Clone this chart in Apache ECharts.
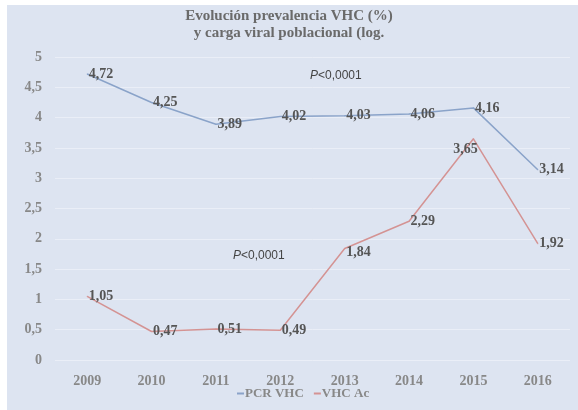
<!DOCTYPE html>
<html>
<head>
<meta charset="utf-8">
<script src="https://cdn.jsdelivr.net/npm/echarts@6/dist/echarts.min.js"></script>
<style>
  html, body { margin: 0; padding: 0; background: #ffffff; }
  #main { width: 578px; height: 410px; }
</style>
</head>
<body>
<div id="main"></div>
<script>
var years = ['2009', '2010', '2011', '2012', '2013', '2014', '2015', '2016'];
var pcrVhc = [4.72, 4.25, 3.89, 4.02, 4.03, 4.06, 4.16, 3.14];
var vhcAc = [1.05, 0.47, 0.51, 0.49, 1.84, 2.29, 3.65, 1.92];
var seriesNames = ['PCR VHC', 'VHC Ac'];
var pText = '{i|P}<0,0001';

var chart = echarts.init(document.getElementById('main'), null, { renderer: 'canvas' });

function comma(v) {
  return v.toFixed(2).replace('.', ',');
}

// label tweaks per point (index -> label option)
function buildData(values, tweaks) {
  return values.map(function (v, i) {
    var d = { value: v };
    if (tweaks[i]) d.label = tweaks[i];
    return d;
  });
}

var labelStyle = {
  show: true,
  position: 'right',
  distance: 1,
  color: '#555555',
  fontFamily: 'Liberation Serif',
  fontWeight: 'bold',
  fontSize: 14,
  formatter: function (p) { return comma(p.value); }
};

function pLabel(x, y) {
  return {
    type: 'text', left: x, top: y, z: 10,
    style: {
      text: pText,
      fill: '#444444',
      font: '12px "Liberation Sans"',
      rich: { i: { fontStyle: 'italic', fontFamily: 'Liberation Sans', fontSize: 12, fill: '#444444' } }
    }
  };
}

var option = {
  backgroundColor: '#ffffff',
  animation: false,
  graphic: [
    {
      type: 'rect', z: -10, silent: true,
      shape: { x: 7, y: 5, width: 571, height: 405 },
      style: { fill: '#dde4f1' }
    },
    pLabel(310, 70),
    pLabel(233, 250)
  ],
  title: {
    text: 'Evolución prevalencia VHC (%)\ny carga viral poblacional (log.',
    left: 'center',
    top: 3,
    textStyle: {
      color: '#6a6a6a',
      fontFamily: 'Liberation Serif',
      fontWeight: 'bold',
      fontSize: 15,
      lineHeight: 17
    }
  },
  legend: {
    bottom: 5,
    left: 232,
    itemWidth: 7,
    itemHeight: 2,
    itemGap: 10,
    icon: 'rect',
    textStyle: {
      color: '#888888',
      fontFamily: 'Liberation Serif',
      fontWeight: 'bold',
      fontSize: 13,
      padding: [0, 0, 0, -4]
    },
    data: seriesNames
  },
  grid: {
    left: 55,
    right: 8,
    top: 57,
    bottom: 50
  },
  xAxis: {
    type: 'category',
    data: years,
    boundaryGap: true,
    axisLine: { show: false },
    axisTick: { show: false },
    axisLabel: {
      color: '#888888',
      fontFamily: 'Liberation Serif',
      fontWeight: 'bold',
      fontSize: 14,
      margin: 14
    }
  },
  yAxis: {
    type: 'value',
    min: 0,
    max: 5,
    interval: 0.5,
    axisLine: { show: false },
    axisTick: { show: false },
    splitLine: { lineStyle: { color: '#eaeef7', width: 1 } },
    axisLabel: {
      color: '#888888',
      fontFamily: 'Liberation Serif',
      fontWeight: 'bold',
      fontSize: 14,
      margin: 13,
      formatter: function (v) { return String(v).replace('.', ','); }
    }
  },
  series: [
    {
      name: seriesNames[0],
      type: 'line',
      symbol: 'circle',
      symbolSize: 1,
      showSymbol: true,
      color: '#8aa3c9',
      lineStyle: { width: 1.5, color: '#8aa3c9' },
      label: labelStyle,
      data: buildData(pcrVhc, {})
    },
    {
      name: seriesNames[1],
      type: 'line',
      symbol: 'circle',
      symbolSize: 1,
      showSymbol: true,
      color: '#d49393',
      lineStyle: { width: 1.5, color: '#d49393' },
      label: labelStyle,
      data: buildData(vhcAc, {
        4: { position: 'right', offset: [0, 4] },
        6: { position: 'bottom', distance: 3, offset: [-8, 0] }
      })
    }
  ]
};

chart.setOption(option);
</script>
</body>
</html>
